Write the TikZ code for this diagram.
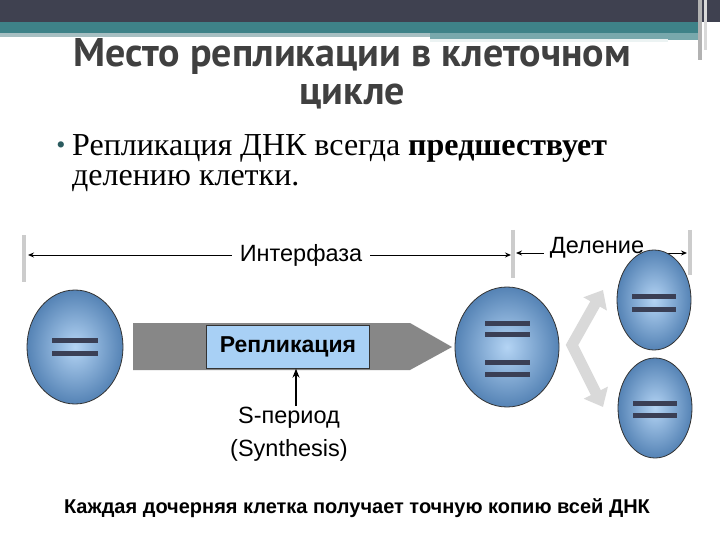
\documentclass[tikz,border=0pt]{standalone}
\usepackage{fontspec}
\setmainfont{Liberation Serif}
\setsansfont{Liberation Sans}
\newfontfamily\titlefont{PT Sans}
\usetikzlibrary{arrows.meta}
\definecolor{topbar}{HTML}{3F4150}
\definecolor{teal}{HTML}{3E8288}
\definecolor{tealL}{HTML}{A7BFC2}
\definecolor{cellin}{HTML}{B4D4F4}
\definecolor{cellout}{HTML}{5583B5}
\definecolor{bardark}{HTML}{3A3F55}
\definecolor{boxblue}{HTML}{A8D0F5}
\tikzset{
  cell/.style={draw=black!80,line width=0.8pt,inner color=cellin,outer color=cellout},
  chrom/.style={line width=5pt,draw=bardark},
  tick/.style={line width=3.5pt,draw=black!20},
  tl/.style={-{Stealth[length=6pt,width=5pt]},line width=1pt},
  lbl/.style={font=\sffamily\fontsize{23.5}{23.5}\selectfont,inner sep=0pt},
}
\begin{document}
\begin{tikzpicture}[x=1pt,y=-1pt]
\useasboundingbox (0,0) rectangle (720,540);
\fill[white] (0,0) rectangle (720,540);
% top bars
\fill[topbar] (0,0) rectangle (720,22);
\fill[teal] (0,22) rectangle (700,33);
\fill[tealL] (0,33) rectangle (430,37);
\fill[teal!70] (430,33) rectangle (700,40);
\fill[white!90!teal] (430,39) rectangle (668,42);
\fill[black!30] (698,0) rectangle (702,60);
\fill[black!15] (704,0) rectangle (707,50);
% title
\node[font=\titlefont\bfseries\fontsize{40}{40}\selectfont,text=black!75,inner sep=0pt] (t1) at (352,57) {Место репликации в клеточном};
\node[font=\titlefont\bfseries\fontsize{40}{40}\selectfont,text=black!75,inner sep=0pt] (t2) at (352,97) {цикле};
% bullet
\node[text=teal!70!black,font=\fontsize{26}{26}\selectfont,inner sep=0pt] (bul) at (61,148) {•};
\node[anchor=west,font=\fontsize{32}{32}\selectfont,inner sep=0pt] (b1) at (72,148) {Репликация ДНК всегда \textbf{предшествует}};
\node[anchor=west,font=\fontsize{32}{32}\selectfont,inner sep=0pt] (b2) at (72,181) {делению клетки.};
% ticks
\draw[tick] (24,235) -- (24,282);
\draw[tick] (513,230) -- (513,278);
\draw[tick] (690,230) -- (690,275);
\coordinate (aL) at (28,255); \coordinate (aR) at (511,255);
\node[lbl] (inter) at (301,255) {Интерфаза};
\draw[tl] (inter.west) ++(-8,0) -- (aL);
\draw[tl] (inter.east) ++(8,0) -- (aR);
\coordinate (dL) at (516,253); \coordinate (dR) at (687,253);
\node[lbl] (del) at (597,248) {Деление};
\draw[tl] (del.west) ++(-6,5) -- (dL);
\draw[tl] (del.east) ++(5,5) -- (dR);
% cells
\draw[cell] (75,347) ellipse [x radius=48,y radius=57];
\draw[chrom] (52,340) -- (98,340); \draw[chrom] (52,353) -- (98,353);
% grey arrow
\fill[black!47] (133,323) -- (410,323) -- (452,347) -- (410,370) -- (133,370) -- cycle;
\node[draw=black!80,fill=boxblue,minimum width=163,minimum height=43,inner sep=0pt,font=\sffamily\bfseries\fontsize{23}{23}\selectfont] (rep) at (288,347) {Репликация};
\node[lbl] (s1) at (289,418) {S-период};
\node[lbl] (s2) at (289,450) {(Synthesis)};
\draw[-{Stealth[length=9pt,width=7pt]},line width=1.2pt] (296,406) -- (rep.south -| 296,0);
\draw[cell] (507,347) ellipse [x radius=52,y radius=60];
\draw[chrom] (485,323) -- (530,323); \draw[chrom] (485,334) -- (530,334);
\draw[chrom] (485,362) -- (530,362); \draw[chrom] (485,374) -- (530,374);
% V arrow
\draw[line width=11pt,draw=black!15,line join=miter,{Triangle[length=16pt,width=26pt]}-{Triangle[length=16pt,width=26pt]}] (603,290) -- (572,345) -- (603,407);
\draw[cell] (654,300) ellipse [x radius=37,y radius=50];
\draw[chrom] (632,296) -- (676,296); \draw[chrom] (632,309) -- (676,309);
\draw[cell] (655,408) ellipse [x radius=37,y radius=50];
\draw[chrom] (633,403) -- (677,403); \draw[chrom] (633,415) -- (677,415);
\node[font=\sffamily\bfseries\fontsize{20}{20}\selectfont,inner sep=0pt] (bot) at (357,508) {Каждая дочерняя клетка получает точную копию всей ДНК};
\end{tikzpicture}
\end{document}
